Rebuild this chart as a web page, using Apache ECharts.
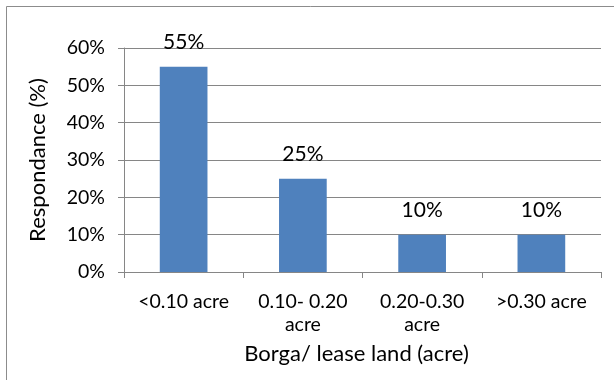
<!DOCTYPE html>
<html>
<head>
<meta charset="utf-8">
<script src="https://cdn.jsdelivr.net/npm/echarts@6/dist/echarts.min.js"></script>
<style>
  html, body { margin: 0; padding: 0; background: #fff; }
  #chart { width: 614px; height: 380px; }
</style>
</head>
<body>
<div id="chart"></div>
<script>
// Land size groups and share of respondents
const categories = ['<0.10 acre', '0.10- 0.20\nacre', '0.20-0.30\nacre', '>0.30 acre'];
const values = [55, 25, 10, 10];
const yTicks = [0, 10, 20, 30, 40, 50, 60];

const FONT = 'Lato, "Open Sans", sans-serif';
const chart = echarts.init(document.getElementById('chart'), null, { renderer: 'canvas' });

chart.setOption({
  animation: false,
  backgroundColor: '#fff',
  graphic: [{
    type: 'rect',
    shape: { x: 6.5, y: 6.5, width: 640, height: 400 },
    style: { fill: 'none', stroke: '#8c8c8c', lineWidth: 1 },
    silent: true
  }],
  grid: { left: 124, right: 13, top: 48, bottom: 108, containLabel: false },
  xAxis: {
    type: 'category',
    data: categories,
    name: 'Borga/ lease land (acre)',
    nameLocation: 'middle',
    nameGap: 71,
    nameTextStyle: { fontFamily: FONT, fontSize: 22, color: '#000', padding: [0, 12, 0, 0] },
    axisLine: { lineStyle: { color: '#868686', width: 1 } },
    axisTick: { show: true, alignWithLabel: false, length: 6, lineStyle: { color: '#868686' } },
    axisLabel: { fontFamily: FONT, fontSize: 19.5, color: '#000', margin: 18, lineHeight: 23 }
  },
  yAxis: {
    type: 'value',
    min: yTicks[0],
    max: yTicks[yTicks.length - 1],
    interval: 10,
    name: 'Respondance (%)',
    nameLocation: 'middle',
    nameGap: 75,
    nameTextStyle: { fontFamily: FONT, fontSize: 22, color: '#000', padding: [0, 0, 0, 0] },
    axisLine: { show: true, lineStyle: { color: '#868686', width: 1 } },
    axisTick: { show: true, length: 6, lineStyle: { color: '#868686' } },
    axisLabel: { fontFamily: FONT, fontSize: 19.5, color: '#000', margin: 19, formatter: v => v + '%' },
    splitLine: { show: true, lineStyle: { color: '#868686', width: 1 } }
  },
  series: [{
    type: 'bar',
    data: values,
    barWidth: '40%',
    itemStyle: { color: '#4f81bd' },
    label: {
      show: true,
      position: 'top',
      distance: 14,
      fontFamily: FONT,
      fontSize: 21,
      color: '#000',
      formatter: p => p.value + '%'
    }
  }]
});
</script>
</body>
</html>
